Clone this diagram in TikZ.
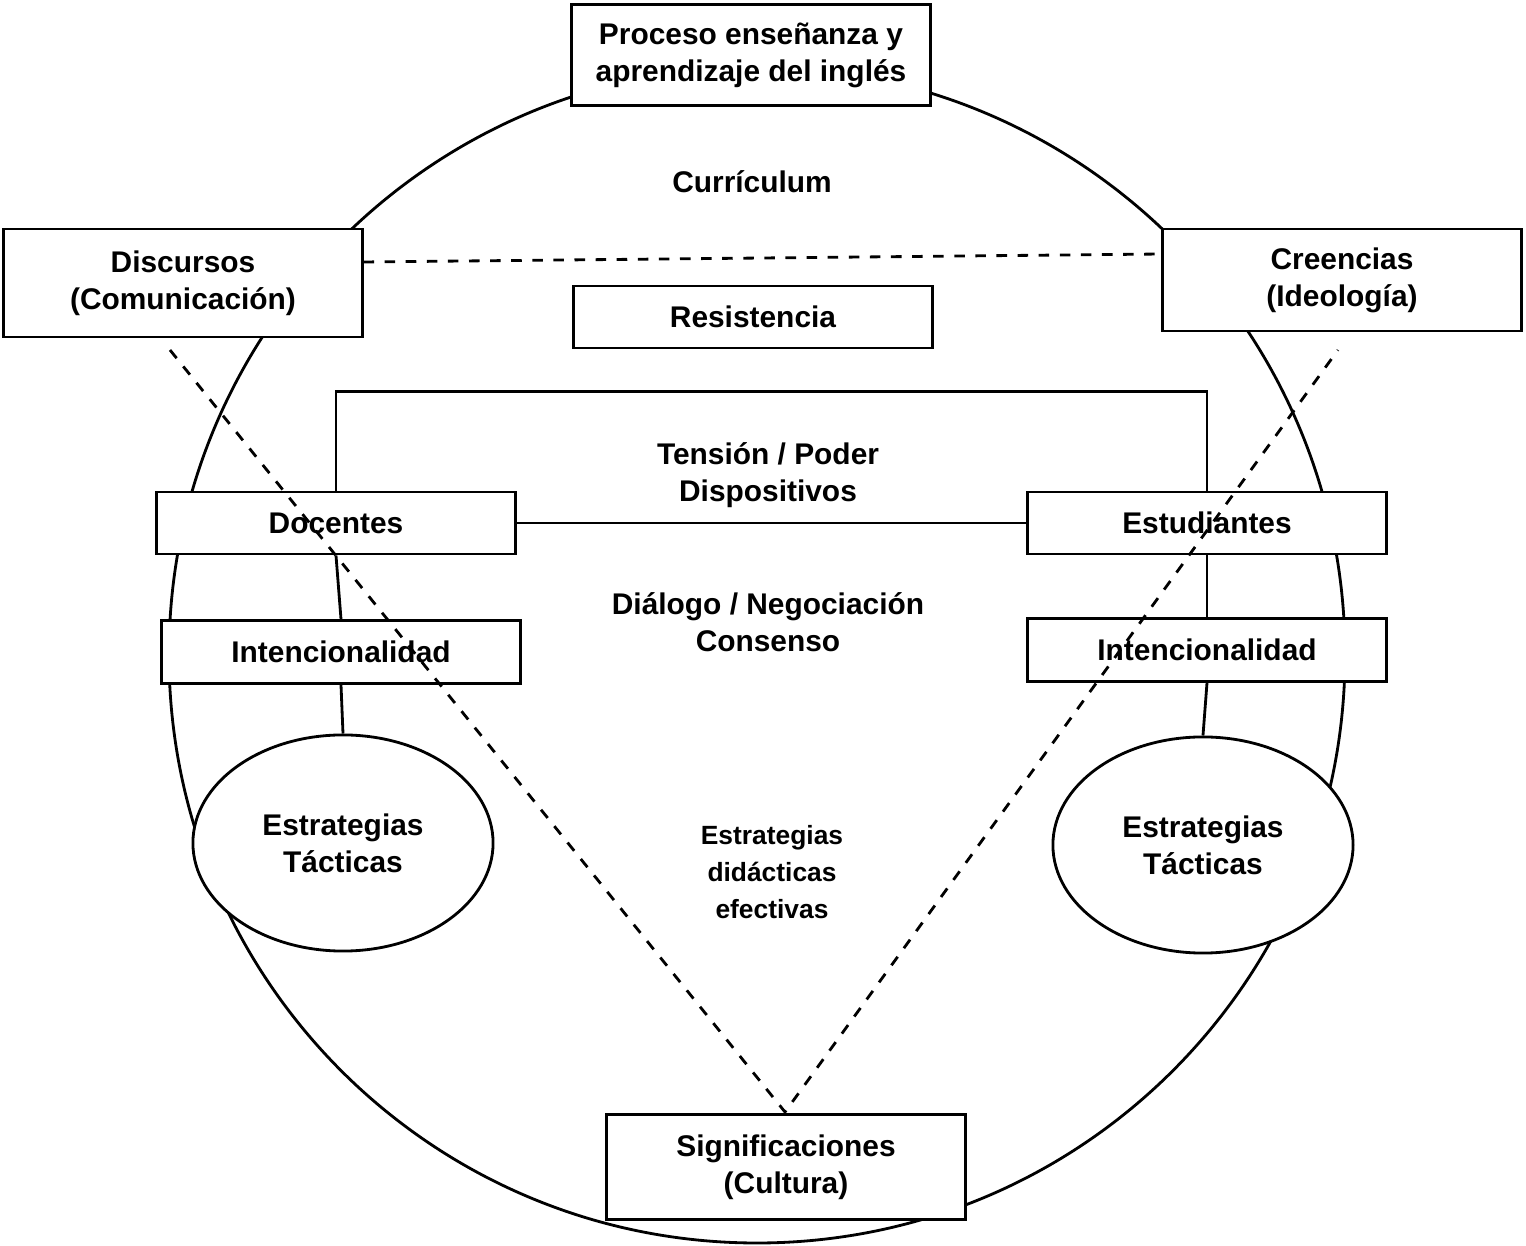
\documentclass[tikz,border=0pt]{standalone}
\usepackage{fontspec}
\setmainfont{Liberation Sans}
\usetikzlibrary{shapes.geometric, positioning}
\begin{document}
\begin{tikzpicture}[
    x=0.01cm, y=-0.01cm,
    every node/.style={font=\bfseries\fontsize{8.5}{10.5}\selectfont, align=center},
    box/.style={rectangle, draw, thick, fill=white, minimum width=3.58cm, inner sep=1pt},
    oval/.style={ellipse, draw, thick, fill=white, minimum width=3cm, minimum height=2.16cm},
    link/.style={thick},
    dashlink/.style={thick, dashed}
]
    \useasboundingbox (0,0) rectangle (1526,1246);
    \draw[thick] (757,655) circle[radius=588];

    \node[box, minimum height=1.01cm] (proceso) at (751,55) {Proceso enseñanza y\\aprendizaje del inglés};
    \node[box, minimum height=1.08cm] (discursos) at (183,283) {Discursos\\(Comunicación)};
    \node[box, minimum height=1.02cm] (creencias) at (1342,280) {Creencias\\(Ideología)};
    \node[box, minimum height=0.62cm] (resistencia) at (753,317) {Resistencia};
    \node[box, minimum height=0.62cm] (docentes) at (336,523) {Docentes};
    \node[box, minimum height=0.62cm] (estudiantes) at (1207,523) {Estudiantes};
    \node[box, minimum height=0.63cm] (intIzq) at (341,652) {Intencionalidad};
    \node[box, minimum height=0.63cm] (intDer) at (1207,650) {Intencionalidad};
    \node[oval] (estIzq) at (343,843) {Estrategias\\Tácticas};
    \node[oval] (estDer) at (1203,845) {Estrategias\\Tácticas};
    \node[box, minimum height=1.05cm] (signif) at (786,1167) {Significaciones\\(Cultura)};

    \node (curriculum) at (752,182) {Currículum};
    \node (tension) at (768,475) {Tensión / Poder\\Dispositivos};
    \node (dialogo) at (768,622) {Diálogo / Negociación\\Consenso};
    \node[font=\bfseries\fontsize{7.5}{10.5}\selectfont] (didacticas) at (772,872) {Estrategias\\didácticas\\efectivas};

    \coordinate (dIzq) at (170,350);
    \coordinate (dDer) at (1338,350);
    \coordinate (vertice) at (785,1112);

    % Lines
    \draw[link] (docentes.north) -- ++(0,-99) -| (estudiantes.north);
    \draw[link] (docentes) -- (estudiantes);
    \draw[link] (docentes.south) -- (intIzq.north);
    \draw[link] (estudiantes.south) -- (intDer.north);
    \draw[link] (intIzq.south) -- (estIzq.north);
    \draw[link] (intDer.south) -- (estDer.north);

    % Dashed
    \draw[dashlink] (discursos.east |- 0,262) -- (creencias.west |- 0,254);
    \draw[dashlink] (dIzq) -- (vertice) -- (dDer);
\end{tikzpicture}
\end{document}
